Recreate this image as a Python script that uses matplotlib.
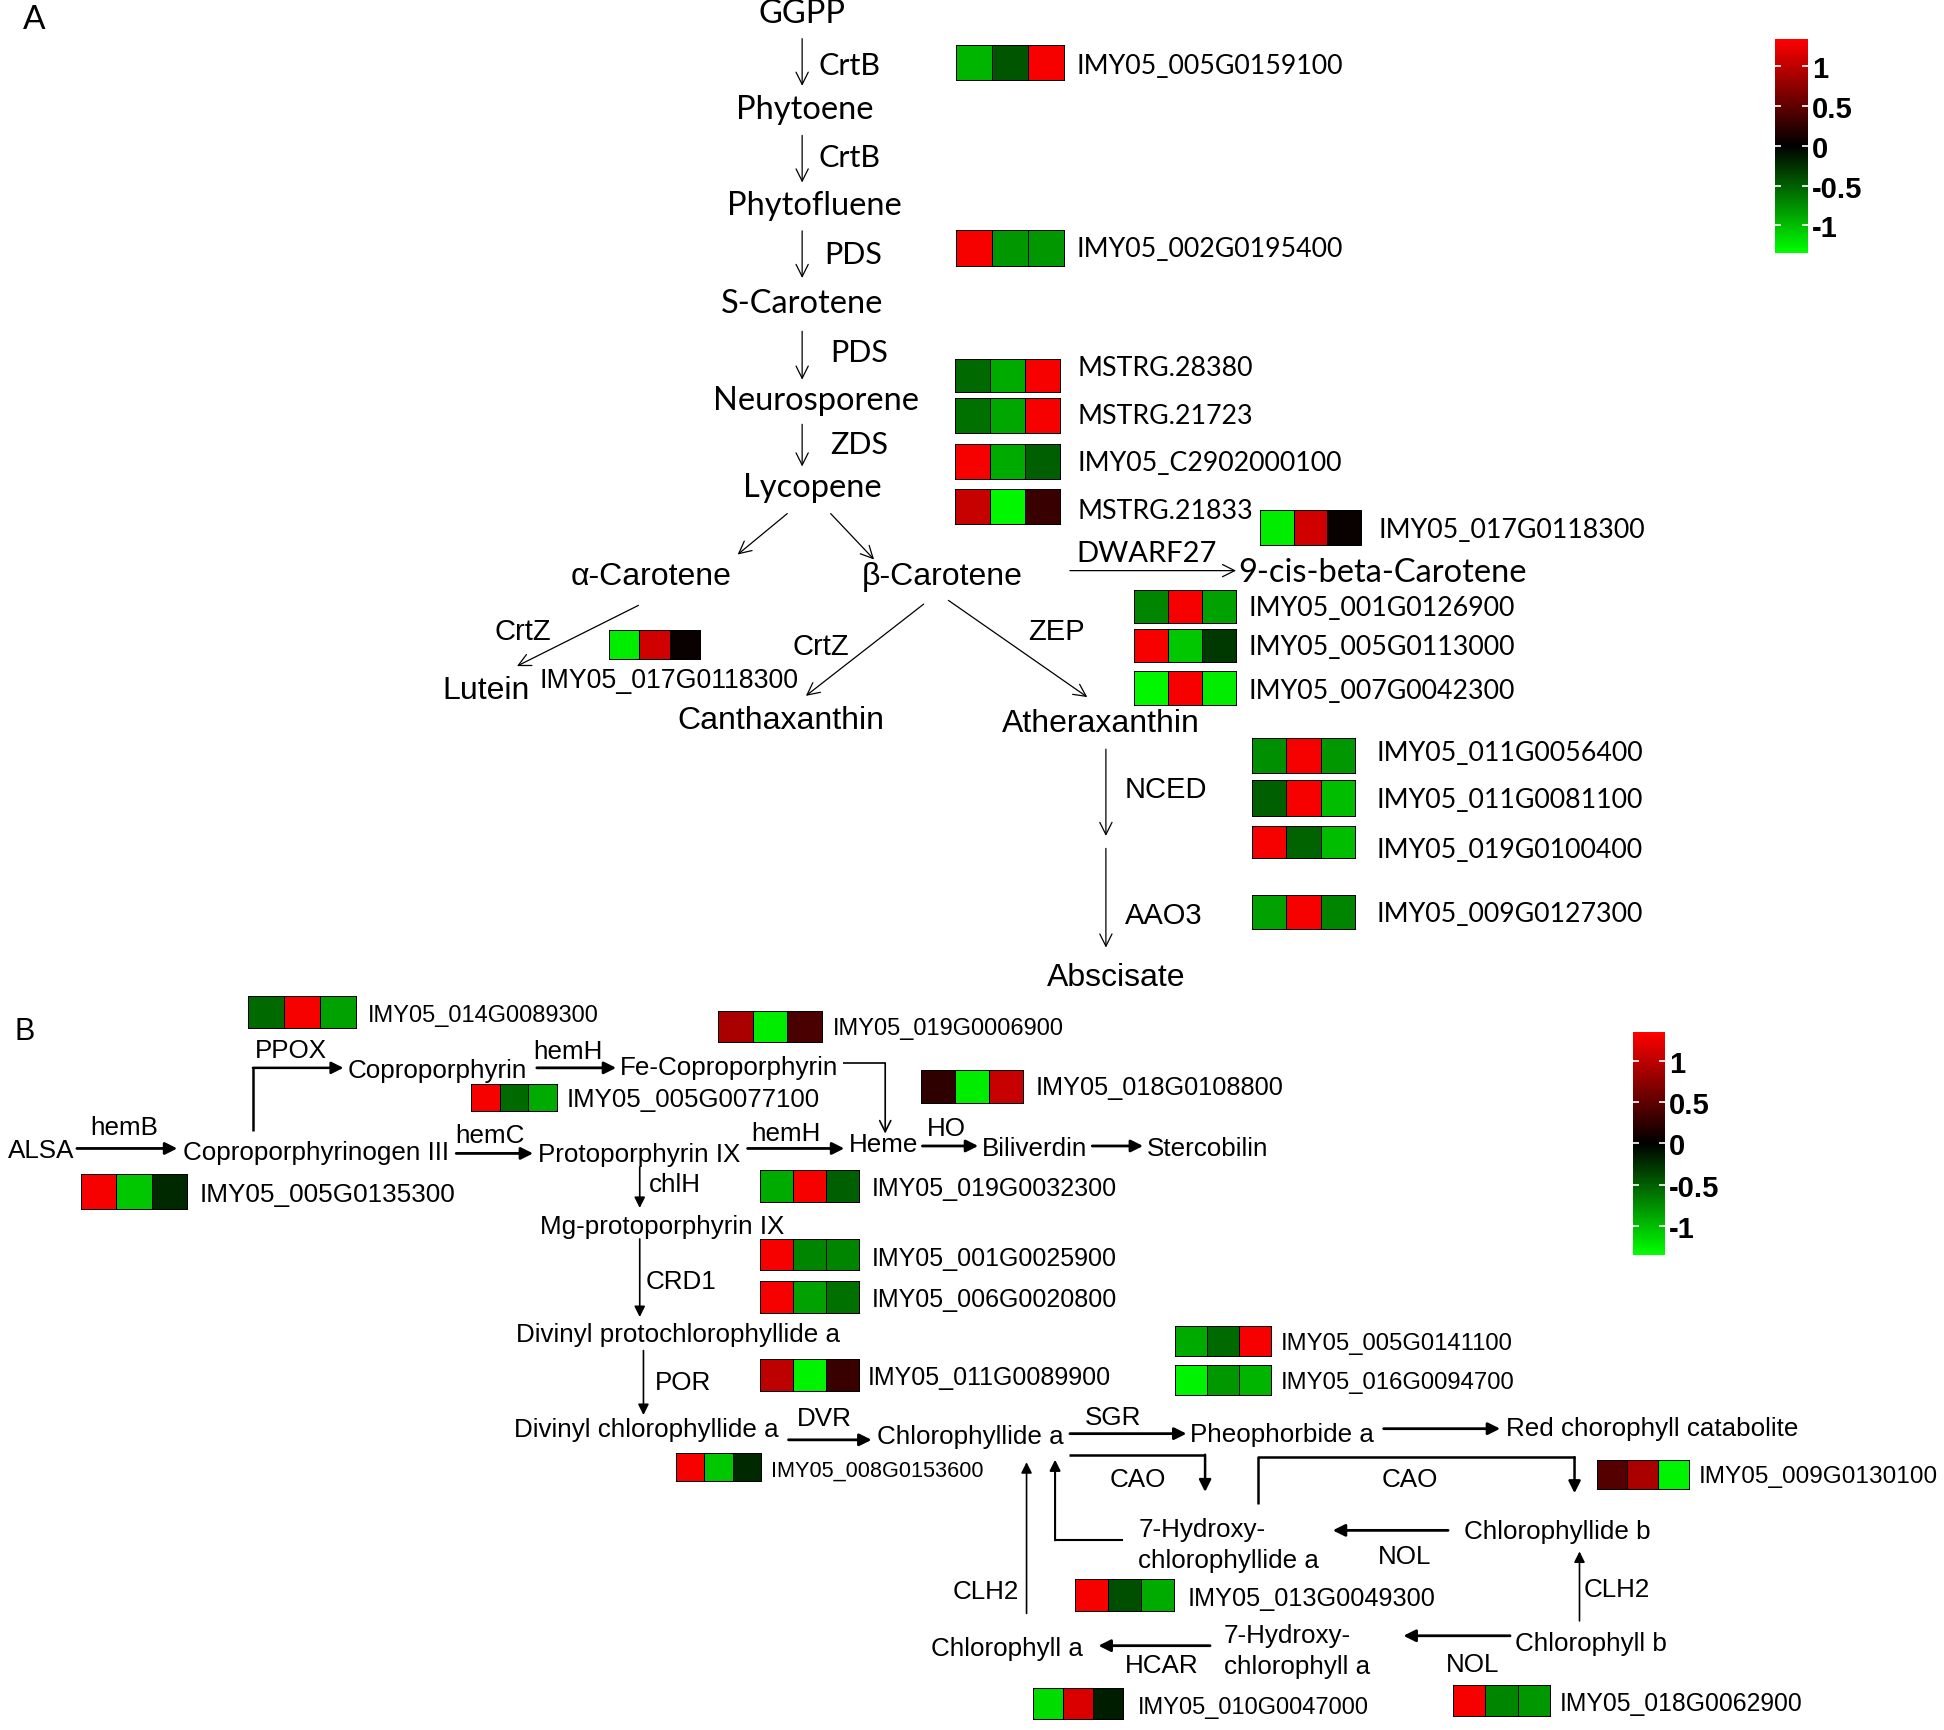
import numpy as np
import matplotlib
matplotlib.use("Agg")
import matplotlib.pyplot as plt
from matplotlib.colors import LinearSegmentedColormap, Normalize
from matplotlib.cm import ScalarMappable

# drawing units = reference picture scaled to 1568 x 1396
W, H = 1568, 1396
LATO = ['Lato', 'DejaVu Sans']
ARIAL = ['Liberation Sans', 'DejaVu Sans']

# ---------------- expression data (z-score, 3 samples) ----------------
genes_a = ["IMY05_005G0159100", "IMY05_002G0195400", "MSTRG.28380", "MSTRG.21723",
           "IMY05_C2902000100", "MSTRG.21833", "IMY05_017G0118300", "IMY05_001G0126900",
           "IMY05_005G0113000", "IMY05_007G0042300", "IMY05_011G0056400", "IMY05_011G0081100",
           "IMY05_019G0100400", "IMY05_009G0127300", "IMY05_017G0118300"]
expr_a = [[-0.95, -0.45, 1.3], [1.3, -0.8, -0.8], [-0.55, -0.9, 1.3], [-0.6, -0.88, 1.3],
          [1.3, -0.9, -0.5], [1.05, -1.3, 0.3], [-1.25, 1.1, 0.05], [-0.7, 1.3, -0.85],
          [1.3, -1.05, -0.3], [-1.3, 1.3, -1.25], [-0.75, 1.3, -0.8], [-0.5, 1.3, -1.0],
          [1.3, -0.52, -1.0], [-0.85, 1.3, -0.7], [-1.25, 1.1, 0.05]]

genes_b = ["IMY05_014G0089300", "IMY05_019G0006900", "IMY05_005G0077100", "IMY05_018G0108800",
           "IMY05_005G0135300", "IMY05_019G0032300", "IMY05_001G0025900", "IMY05_006G0020800",
           "IMY05_011G0089900", "IMY05_005G0141100", "IMY05_016G0094700", "IMY05_008G0153600",
           "IMY05_009G0130100", "IMY05_013G0049300", "IMY05_010G0047000", "IMY05_018G0062900"]
expr_b = [[-0.55, 1.3, -0.85], [0.9, -1.25, 0.4], [1.3, -0.55, -0.9], [0.25, -1.25, 1.05],
          [1.3, -1.05, -0.22], [-0.9, 1.3, -0.5], [1.3, -0.7, -0.7], [1.3, -0.85, -0.6],
          [1.0, -1.28, 0.3], [-0.9, -0.55, 1.3], [-1.28, -0.8, -0.95], [1.3, -1.05, -0.22],
          [0.45, 0.9, -1.28], [1.3, -0.42, -0.9], [-1.15, 1.15, -0.15], [1.3, -0.7, -0.8]]

cbar_ticks = [1, 0.5, 0, -0.5, -1]
cbar_labels = ["1", "0.5", "0", "-0.5", "-1"]

# ---------------- layout ----------------
box_a = [(771, 858, 37, 65), (771, 858, 186, 215), (770, 855, 290, 317), (770, 855, 322, 350),
         (770, 855, 359, 387), (770, 855, 395, 423), (1016, 1098, 412, 440), (915, 997, 477, 503),
         (915, 997, 508, 535), (915, 997, 542, 569), (1010, 1093, 596, 624), (1010, 1093, 630, 659),
         (1010, 1093, 667, 693), (1010, 1093, 723, 750), (491, 565, 509, 532)]
lab_a = [(868, 52), (868, 200), (869, 296), (869, 334), (869, 372), (869, 411), (1112, 426),
         (1007, 489), (1007, 521), (1007, 556), (1110, 606), (1110, 644), (1110, 684), (1110, 736),
         (435, 548)]

box_b = [(200, 287, 804, 830), (579, 663, 816, 841), (380, 449, 875, 897), (743, 825, 864, 890),
         (65, 151, 948, 976), (613, 693, 944, 970), (613, 693, 1000, 1025), (613, 693, 1034, 1060),
         (613, 693, 1097, 1123), (948, 1025, 1070, 1094), (948, 1025, 1102, 1126), (545, 614, 1173, 1195),
         (1288, 1362, 1178, 1202), (867, 947, 1274, 1300), (833, 906, 1362, 1387), (1172, 1250, 1360, 1385)]
lab_b = [(297, 818), (672, 828), (457, 886), (835, 876), (161, 962), (703, 957), (703, 1014),
         (703, 1047), (700, 1110), (1033, 1082), (1033, 1114), (622, 1185), (1370, 1190),
         (958, 1288), (918, 1376), (1258, 1373)]
size_b = [17, 17, 18.6, 18.2, 18.8, 18, 18, 18, 18, 17.2, 17.2, 15.6, 17.6, 18.2, 17, 17.8]

cmap = LinearSegmentedColormap.from_list("gbr", ["#00ff00", "#000000", "#ff0000"])
norm = Normalize(-1.35, 1.35)

fig = plt.figure(figsize=(19.44, 17.31), dpi=100)
ax = fig.add_axes([0, 0, 1, 1])
ax.set_xlim(0, W)
ax.set_ylim(H, 0)
ax.axis('off')


def heat(box, vals):
    x0, x1, y0, y1 = box
    ax.pcolormesh(np.linspace(x0, x1, 4), [y0, y1], np.array([vals]), cmap=cmap, norm=norm,
                  edgecolors='k', linewidth=0.6)


def arrow(p0, p1, lw=1.0, style='->', ms=20):
    ax.annotate('', xy=p1, xytext=p0,
                arrowprops=dict(arrowstyle=style, lw=lw, color='k', shrinkA=0, shrinkB=0,
                                mutation_scale=ms))


def path_arrow(pts, lw=2.0, style='-|>', ms=18):
    xs, ys = zip(*pts[:-1])
    ax.plot(xs, ys, color='k', lw=lw, solid_capstyle='butt')
    arrow(pts[-2], pts[-1], lw=lw, style=style, ms=ms)


def txt(s, x, y, size, fam, ha='center', **kw):
    ax.text(x, y + 1.5, s, fontsize=size, family=fam, ha=ha, va='center', **kw)


# ---------------- panel A ----------------
txt("A", 28, 15, 24, LATO)
for s, x, y in [("GGPP", 647, 10), ("Phytoene", 649, 87), ("Phytofluene", 657, 165),
                ("S-Carotene", 647, 244), ("Neurosporene", 658, 322), ("Lycopene", 655, 392)]:
    txt(s, x, y, 23.5, LATO)
txt("9-cis-beta-Carotene", 999, 461, 23.5, LATO, ha='left')
for s, x, y in [("α-Carotene", 525, 464), ("β-Carotene", 760, 464), ("Lutein", 392, 556),
                ("Canthaxanthin", 630, 580), ("Atheraxanthin", 888, 582), ("Abscisate", 900, 787)]:
    txt(s, x, y, 23, ARIAL)
for s, x, y in [("CrtB", 660, 52), ("CrtB", 660, 126), ("PDS", 665, 204), ("PDS", 670, 283),
                ("ZDS", 670, 357)]:
    txt(s, x, y, 22, LATO, ha='left')
txt("DWARF27", 925, 445, 21, LATO)
for s, x, y in [("CrtZ", 422, 508), ("CrtZ", 662, 520), ("ZEP", 852, 508)]:
    txt(s, x, y, 21, ARIAL)
txt("NCED", 907, 636, 21, ARIAL, ha='left')
txt("AAO3", 907, 737, 21, ARIAL, ha='left')

for p0, p1 in [((647, 32), (647, 70)), ((647, 110), (647, 148)), ((647, 187), (647, 225)),
               ((647, 268), (647, 307)), ((647, 343), (647, 377)), ((635, 415), (595, 448)),
               ((670, 415), (705, 452)), ((863, 461), (997, 461)), ((515, 489), (417, 538)),
               ((745, 488), (650, 562)), ((765, 485), (877, 563)), ((892, 605), (892, 675)),
               ((892, 685), (892, 765))]:
    arrow(p0, p1, lw=0.9, ms=22)

for i, g in enumerate(genes_a):
    heat(box_a[i], expr_a[i])
    fam = ARIAL if i == len(genes_a) - 1 else LATO
    txt(g, lab_a[i][0], lab_a[i][1], 19.3, fam, ha='left')

# ---------------- panel B ----------------
txt("B", 20, 831, 22, ARIAL)
FB = 18.7
for s, x, y, ha in [("ALSA", 33, 927, 'center'), ("hemB", 100, 908, 'center'),
                    ("Coproporphyrinogen III", 148, 928, 'left'), ("PPOX", 235, 846, 'center'),
                    ("Coproporphyrin", 280, 862, 'left'), ("hemH", 458, 847, 'center'),
                    ("Fe-Coproporphyrin", 500, 860, 'left'), ("hemC", 395, 915, 'center'),
                    ("Protoporphyrin IX", 434, 930, 'left'), ("hemH", 634, 913, 'center'),
                    ("Heme", 685, 922, 'left'), ("HO", 763, 909, 'center'),
                    ("Biliverdin", 792, 925, 'left'), ("Stercobilin", 925, 925, 'left'),
                    ("chlH", 523, 954, 'left'), ("Mg-protoporphyrin IX", 534, 988, 'center'),
                    ("CRD1", 521, 1032, 'left'), ("Divinyl protochlorophyllide a", 547, 1075, 'center'),
                    ("POR", 528, 1114, 'left'), ("Divinyl chlorophyllide a", 521, 1152, 'center'),
                    ("DVR", 665, 1143, 'center'), ("Chlorophyllide a", 707, 1157, 'left'),
                    ("SGR", 898, 1142, 'center'), ("Pheophorbide a", 960, 1156, 'left'),
                    ("Red chorophyll catabolite", 1215, 1151, 'left'), ("CAO", 918, 1192, 'center'),
                    ("CAO", 1137, 1192, 'center'), ("7-Hydroxy-", 918, 1232, 'left'),
                    ("chlorophyllide a", 918, 1257, 'left'), ("NOL", 1133, 1254, 'center'),
                    ("Chlorophyllide b", 1181, 1234, 'left'), ("CLH2", 795, 1282, 'center'),
                    ("CLH2", 1277, 1281, 'left'), ("Chlorophyll b", 1222, 1324, 'left'),
                    ("NOL", 1188, 1341, 'center'), ("7-Hydroxy-", 987, 1318, 'left'),
                    ("chlorophyll a", 987, 1343, 'left'), ("HCAR", 937, 1342, 'center'),
                    ("Chlorophyll a", 751, 1328, 'left')]:
    txt(s, x, y, FB, ARIAL, ha=ha)

for p0, p1 in [((62, 927), (143, 927)), ((433, 862), (497, 862)), ((368, 931), (430, 931)),
               ((603, 927), (681, 927)), ((744, 925), (789, 925)), ((881, 925), (922, 925)),
               ((636, 1162), (703, 1162)), ((863, 1157), (957, 1157)), ((1116, 1153), (1210, 1153)),
               ((1168, 1235), (1075, 1235)), ((1218, 1320), (1132, 1320)), ((976, 1328), (886, 1328))]:
    arrow(p0, p1, lw=2.0, style='-|>', ms=18)
for p0, p1 in [((516, 942), (516, 975)), ((516, 1000), (516, 1063)), ((519, 1090), (519, 1142)),
               ((828, 1302), (828, 1180)), ((1274, 1308), (1274, 1252))]:
    arrow(p0, p1, lw=1.2, style='-|>', ms=16)
path_arrow([(204, 913), (204, 862), (277, 862)], lw=1.8)
path_arrow([(680, 858), (714, 858), (714, 915)], lw=1.2, style='->', ms=20)
path_arrow([(862, 1174), (972, 1174), (972, 1204)], lw=1.8)
path_arrow([(1015, 1214), (1015, 1176), (1270, 1176), (1270, 1205)], lw=1.8)
path_arrow([(906, 1243), (851, 1243), (851, 1178)], lw=1.5, ms=16)

for i, g in enumerate(genes_b):
    heat(box_b[i], expr_b[i])
    txt(g, lab_b[i][0], lab_b[i][1], size_b[i], ARIAL, ha='left')

# ---------------- colour scales ----------------
for x0, y0, x1, y1 in [(1432, 32, 1458, 205), (1317, 833, 1343, 1013)]:
    cax = fig.add_axes([x0 / W, 1 - y1 / H, (x1 - x0) / W, (y1 - y0) / H])
    cb = fig.colorbar(ScalarMappable(norm=norm, cmap=cmap), cax=cax, ticks=cbar_ticks)
    cb.outline.set_visible(False)
    cb.ax.set_yticklabels(cbar_labels, fontsize=21, fontweight='bold', family=ARIAL)
    cb.ax.tick_params(direction='in', color='white', length=4, width=1.2, pad=3,
                      left=True, right=True)

fig.savefig("out.png", dpi=100)
